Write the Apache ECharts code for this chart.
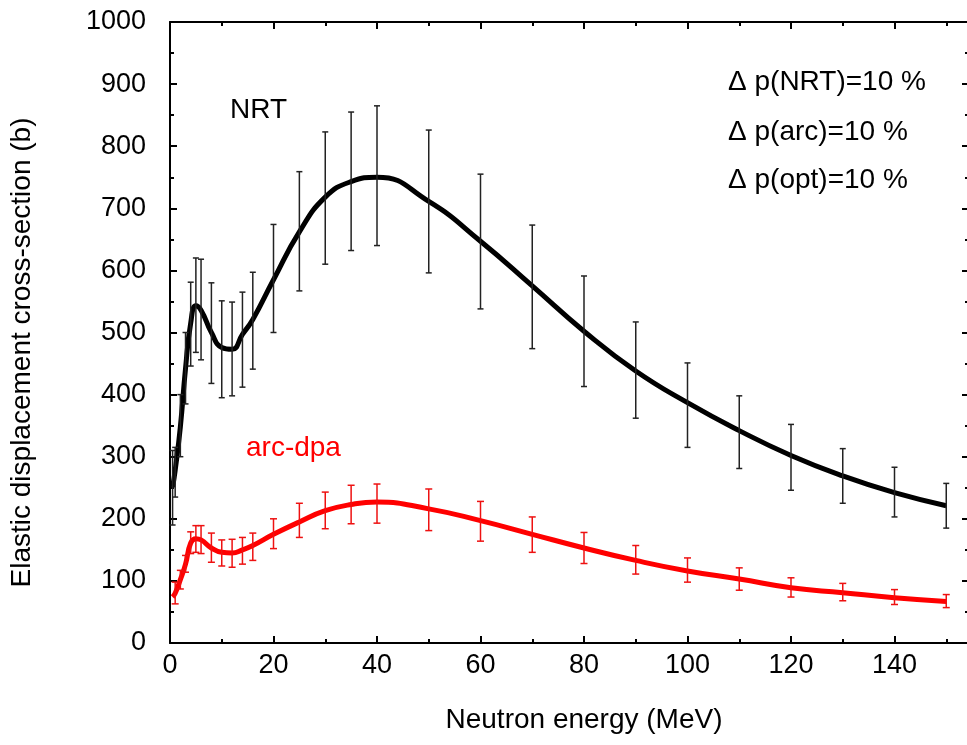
<!DOCTYPE html>
<html>
<head>
<meta charset="utf-8">
<script src="https://cdn.jsdelivr.net/npm/echarts@6/dist/echarts.min.js"></script>
<style>
html,body{margin:0;padding:0;background:#fff;}
#chart{width:967px;height:745px;}
</style>
</head>
<body>
<div id="chart"></div>
<script>
// Neutron energy (MeV)
const energy = [0.5,1,2,3,4,5,6,8,10,12,14,16,20,25,30,35,40,50,60,70,80,90,100,110,120,130,140,150];
// NRT elastic displacement cross-section (b)
const nrt     = [251,278,348,442,515,543,536,500,476,473,497,521,585,662,718,743,750,711,647,575,502,438,387,342,302,269,242,221];
const nrtLow  = [190,235,300,385,446,468,456,418,395,398,412,441,500,567,610,632,640,596,538,474,413,362,315,281,246,225,203,185];
const nrtHigh = [310,315,400,500,581,620,618,580,551,549,565,597,674,759,823,855,865,826,755,673,591,517,451,398,352,313,283,257];
// arc-dpa elastic displacement cross-section (b)
const arc     = [74,80,102,127,161,168,166,153,146,145,150,157,175,195,213,223,227,216,197,175,153,133,116,103,89,81,73,67];
const arcLow  = [null,63,87,114,144,146,144,130,124,122,127,133,152,170,184,192,193,181,164,146,128,111,98,85,74,68,62,57];
const arcHigh = [null,98,117,141,179,189,189,177,166,167,170,177,200,225,243,254,256,248,228,203,178,157,137,121,105,96,86,78];

const xTicks = {min:0, max:160, interval:20};
const yTicks = {min:0, max:1000, interval:100};

const FONT = '"Liberation Sans", Arial, sans-serif';

function errData(lo, hi){
  const out = [];
  energy.forEach((e,i)=>{ if(lo[i]!=null && hi[i]!=null) out.push([e, lo[i], hi[i]]); });
  return out;
}
function errRender(color, cap, width){
  return function(params, api){
    const x = api.value(0);
    const p1 = api.coord([x, api.value(1)]);
    const p2 = api.coord([x, api.value(2)]);
    const st = {stroke: color, lineWidth: width};
    return {type:'group', children:[
      {type:'line', shape:{x1:p1[0], y1:p1[1], x2:p2[0], y2:p2[1]}, style:st},
      {type:'line', shape:{x1:p1[0]-cap, y1:p1[1], x2:p1[0]+cap, y2:p1[1]}, style:st},
      {type:'line', shape:{x1:p2[0]-cap, y1:p2[1], x2:p2[0]+cap, y2:p2[1]}, style:st}
    ]};
  };
}

const chart = echarts.init(document.getElementById('chart'), null, {renderer:'canvas'});
const axisLine = {show:true, onZero:false, lineStyle:{color:'#000', width:2}};
const tick = {show:true, inside:true, length:7, lineStyle:{color:'#000', width:2}};
const minor = {show:true, splitNumber:2, length:4, lineStyle:{color:'#000', width:2}};

chart.setOption({
  animation:false,
  backgroundColor:'#fff',
  grid:{left:170, top:22, width:828, bottom:102, containLabel:false, outerBoundsMode:'none'},
  xAxis:[{
    type:'value', position:'bottom', min:xTicks.min, max:xTicks.max, interval:xTicks.interval,
    axisLine:axisLine, axisTick:tick, minorTick:minor, splitLine:{show:false},
    axisLabel:{fontSize:27, color:'#000', fontFamily:FONT, margin:9},
    name:'Neutron energy (MeV)', nameLocation:'middle', nameGap:63,
    nameTextStyle:{fontSize:28, color:'#000', fontFamily:FONT}
  },{
    type:'value', position:'top', min:xTicks.min, max:xTicks.max, interval:xTicks.interval,
    axisLine:axisLine, axisTick:tick, minorTick:minor, splitLine:{show:false},
    axisLabel:{show:false}
  }],
  yAxis:[{
    type:'value', position:'left', min:yTicks.min, max:yTicks.max, interval:yTicks.interval,
    axisLine:axisLine, axisTick:tick, minorTick:minor, splitLine:{show:false},
    axisLabel:{fontSize:27, color:'#000', fontFamily:FONT, margin:24, formatter:(v)=>String(v)},
    name:'Elastic displacement cross-section (b)', nameLocation:'middle', nameGap:134,
    nameTextStyle:{fontSize:28, color:'#000', fontFamily:FONT, padding:[0,40,0,0]}
  },{
    type:'value', position:'right', offset:-29, min:yTicks.min, max:yTicks.max, interval:yTicks.interval,
    axisLine:axisLine, axisTick:tick, minorTick:minor, splitLine:{show:false},
    axisLabel:{show:false}
  }],
  series:[
    {type:'line', name:'NRT', data:energy.map((e,i)=>[e,nrt[i]]), smooth:0.5,
     showSymbol:false, symbol:'none', lineStyle:{color:'#000', width:5}, z:3},
    {type:'custom', name:'NRT err', data:errData(nrtLow,nrtHigh), renderItem:errRender('#222',3,1.5), z:4},
    {type:'line', name:'arc-dpa', data:energy.map((e,i)=>[e,arc[i]]), smooth:0.5,
     showSymbol:false, symbol:'none', lineStyle:{color:'#ff0000', width:5}, z:3},
    {type:'custom', name:'arc err', data:errData(arcLow,arcHigh), renderItem:errRender('#ee1111',3.5,1.5), z:4}
  ],
  graphic:[
    {type:'text', x:230, y:110, style:{text:'NRT', fill:'#000', font:'28px '+FONT, verticalAlign:'middle'}},
    {type:'text', x:246, y:448, style:{text:'arc-dpa', fill:'#ff0000', font:'28px '+FONT, verticalAlign:'middle'}},
    {type:'text', x:728, y:82, style:{text:'\u0394 p(NRT)=10 %', fill:'#000', font:'28px '+FONT, verticalAlign:'middle'}},
    {type:'text', x:728, y:132, style:{text:'\u0394 p(arc)=10 %', fill:'#000', font:'28px '+FONT, verticalAlign:'middle'}},
    {type:'text', x:728, y:180, style:{text:'\u0394 p(opt)=10 %', fill:'#000', font:'28px '+FONT, verticalAlign:'middle'}}
  ]
});
</script>
</body>
</html>
